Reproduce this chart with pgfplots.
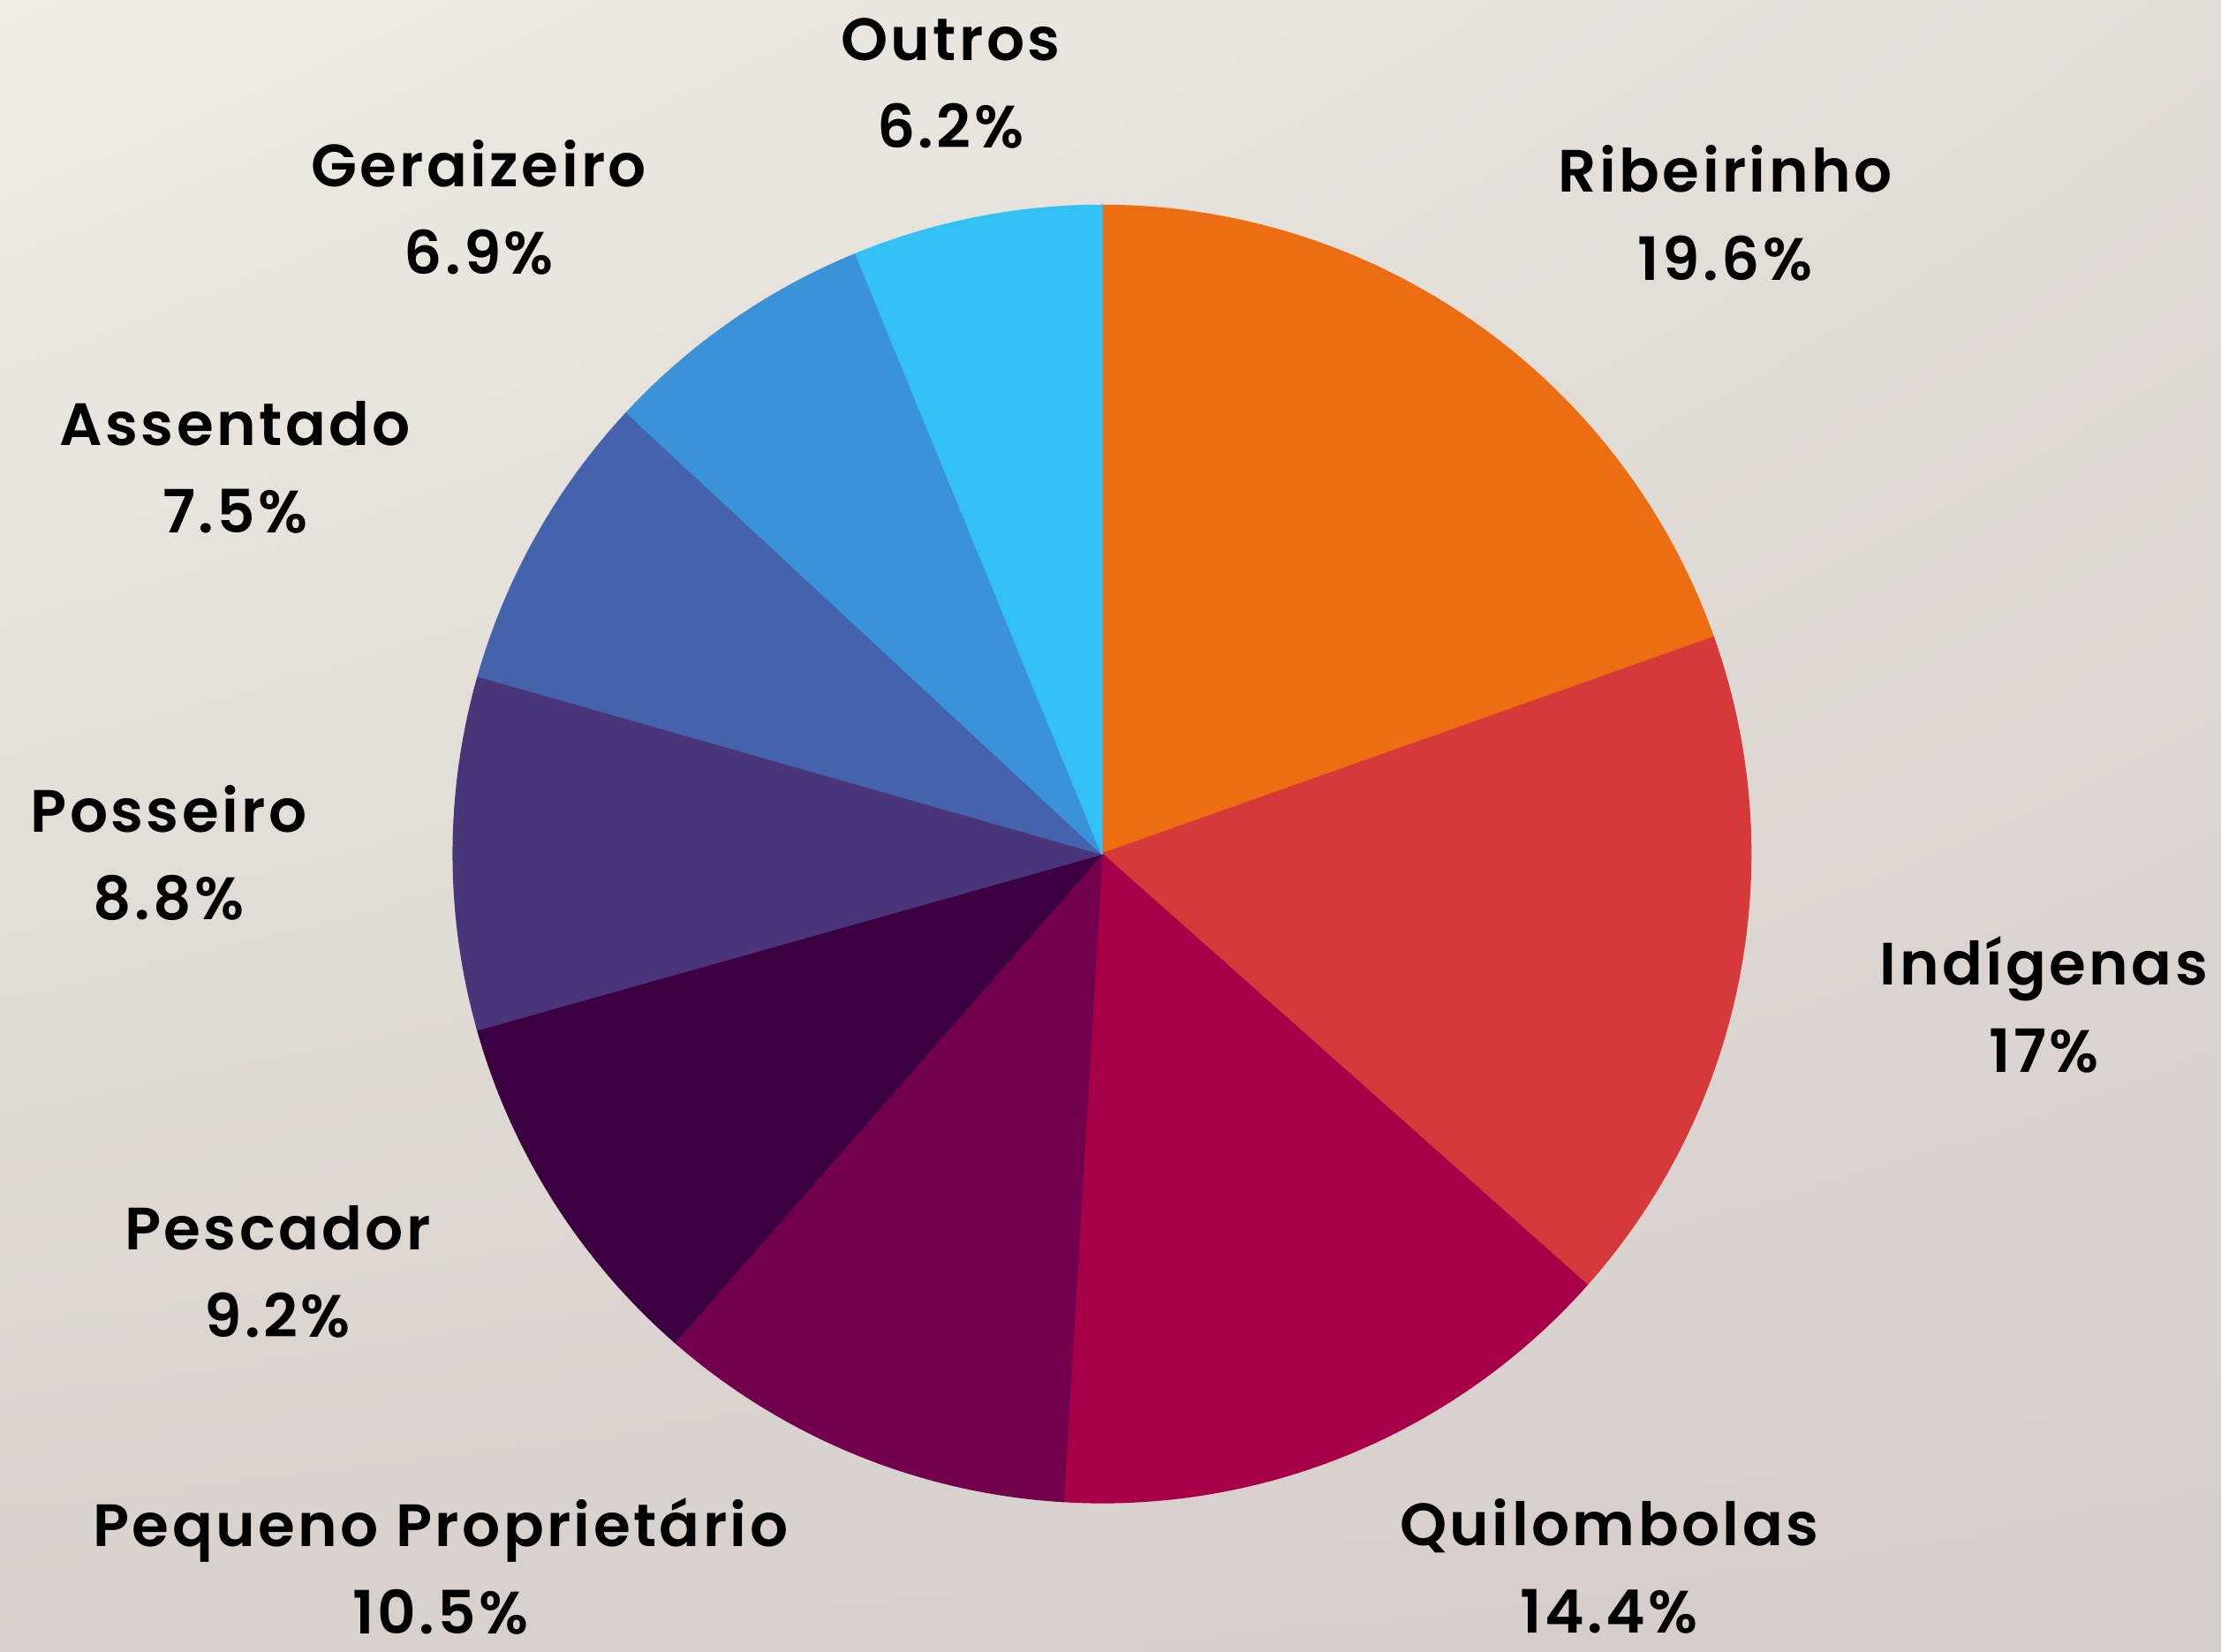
\documentclass[border=0pt]{standalone}
\usepackage{pgfplots}
\usepackage{pgfplotstable}
\pgfplotsset{compat=1.18}
\usepgfplotslibrary{polar}
\usetikzlibrary{shadings}
\usepackage{fontspec}
\setmainfont{Poppins}[BoldFont=* SemiBold, BoldFeatures={LetterSpace=5}]

\definecolor{slice0}{HTML}{EC6D12}% Ribeirinho
\definecolor{slice1}{HTML}{D63939}% Indigenas
\definecolor{slice2}{HTML}{A80048}% Quilombolas
\definecolor{slice3}{HTML}{72004C}% Pequeno Proprietario
\definecolor{slice4}{HTML}{3C0042}% Pescador
\definecolor{slice5}{HTML}{4A357A}% Posseiro
\definecolor{slice6}{HTML}{4562AD}% Assentado
\definecolor{slice7}{HTML}{3A92D8}% Geraizeiro
\definecolor{slice8}{HTML}{33C1F4}% Outros
\definecolor{bgul}{HTML}{EFEDE5}
\definecolor{bgur}{HTML}{E2DCD7}
\definecolor{bgll}{HTML}{D8D0CC}
\definecolor{bglr}{HTML}{D6CDCA}

% shares in percent, clockwise from the top
\pgfplotstableread{
v
19.6
17
14.4
10.5
9.2
8.8
7.5
6.9
6.2
}\shares

\begin{document}
\begin{tikzpicture}
\path[use as bounding box] (0,0) rectangle (15.68,11.66);
\shade[upper left=bgul, upper right=bgur, lower left=bgll, lower right=bglr]
  (0,0) rectangle (15.68,11.66);

\begin{polaraxis}[
    hide axis,
    scale only axis,
    width=9.16cm, height=9.16cm,
    ymin=0, ymax=1,
    clip=false,
    at={(7.78cm,5.63cm)}, anchor=origin,
]
\def\aA{90}
\pgfplotsforeachungrouped \i in {0,...,8}{
  \pgfplotstablegetelem{\i}{v}\of\shares
  \pgfmathsetmacro\aB{\aA-\pgfplotsretval*360/100.1}
  \edef\tmp{\noexpand\fill[slice\i, draw=slice\i, line width=0.3pt, line join=round] (axis cs:0,0) -- plot[domain=\aA:\aB, samples=60] (axis cs:\noexpand\x,1) -- cycle;}
  \tmp
  \global\let\aA\aB
}
\end{polaraxis}

\tikzset{lab/.style={align=center, inner sep=0pt, font=\fontsize{12}{17.6}\selectfont\bfseries}}
\node[lab] at (6.71,11.07) {Outros\\6.2\%};
\node[lab] at (12.18,10.155) {Ribeirinho\\19.6\%};
\node[lab] at (3.38,10.195) {Geraizeiro\\6.9\%};
\node[lab] at (1.66,8.36) {Assentado\\7.5\%};
\node[lab] at (1.19,5.635) {Posseiro\\8.8\%};
\node[lab] at (14.43,4.565) {Indígenas\\17\%};
\node[lab] at (1.96,2.68) {Pescador\\9.2\%};
\node[lab] at (3.11,0.6) {Pequeno Proprietário\\10.5\%};
\node[lab] at (11.36,0.6) {Quilombolas\\14.4\%};
\end{tikzpicture}
\end{document}
